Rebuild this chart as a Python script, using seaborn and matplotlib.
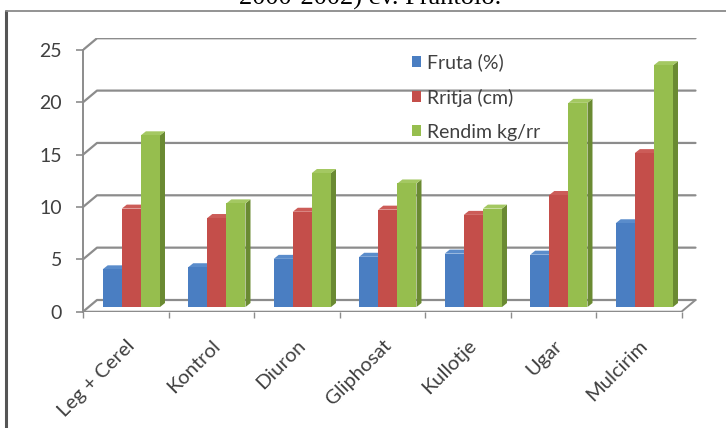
import matplotlib
matplotlib.use("Agg")
import matplotlib.pyplot as plt
import seaborn as sns
import pandas as pd
from matplotlib.patches import Polygon
from matplotlib.lines import Line2D

categories = ["Leg + Cerel", "Kontrol", "Diuron", "Gliphosat", "Kullotje", "Ugar", "Mulcirim"]
series = ["Fruta (%)", "Rritja (cm)", "Rendim kg/rr"]
fruta = [3.6, 3.8, 4.6, 4.8, 5.1, 5.0, 8.0]
rritja = [9.4, 8.5, 9.1, 9.3, 8.8, 10.7, 14.7]
rendim = [16.4, 9.9, 12.8, 11.8, 9.4, 19.5, 23.1]
yticks = [0, 5, 10, 15, 20, 25]
title = "2000-2002) cv. Frantoio."

face_colors = ["#4A7EC2", "#C44E4A", "#96BE4E"]
side_colors = ["#35629A", "#923633", "#6A8A32"]
top_colors = ["#5A8CCB", "#CC5C58", "#A4C862"]
grid_color = "#8C8C8C"
text_color = "#404040"

df = pd.DataFrame({
    "Trajtimi": categories * 3,
    "Seria": [s for s in series for _ in categories],
    "Vlera": fruta + rritja + rendim,
})

sns.set_theme(style="white")
plt.rcParams["font.family"] = ["Lato", "DejaVu Sans"]

W, H = 726, 428
fig = plt.figure(figsize=(W / 100, H / 100), dpi=100)
fig.patch.set_facecolor("white")

# plot area in pixels
x0, x1 = 83, 700
yb, yt = 311.7, 38
ax = fig.add_axes([x0 / W, 1 - yb / H, (x1 - x0) / W, (yb - yt) / H])
cat_px, unit_px = 85.5, 10.47
xmax = -0.5 + (x1 - x0) / cat_px
ymax = (yb - yt) / unit_px
DX, DY = 14 / cat_px, 11.7 / unit_px        # depth of the back wall
bdx, bdy = 5 / cat_px, 4 / unit_px          # depth of each column

sns.barplot(data=df, x="Trajtimi", y="Vlera", hue="Seria", order=categories,
            hue_order=series, palette=face_colors, saturation=1, width=0.67,
            linewidth=0, ax=ax)

# 3-D look: shift columns to mid-depth and add side and top faces
for s, cont in enumerate(ax.containers):
    for bar in cont:
        bx = bar.get_x() + 0.4 * DX
        by = 0.4 * DY
        bw, bh = bar.get_width(), bar.get_height()
        bar.set_x(bx)
        bar.set_y(by)
        bar.set_zorder(4 + 2 * s + 1)
        side = Polygon([(bx + bw, by), (bx + bw + bdx, by + bdy),
                        (bx + bw + bdx, by + bh + bdy), (bx + bw, by + bh)],
                       closed=True, facecolor=side_colors[s], edgecolor="none",
                       zorder=4 + 2 * s)
        top = Polygon([(bx, by + bh), (bx + bdx, by + bh + bdy),
                       (bx + bw + bdx, by + bh + bdy), (bx + bw, by + bh)],
                      closed=True, facecolor=top_colors[s], edgecolor="none",
                      zorder=4 + 2 * s)
        ax.add_patch(side)
        ax.add_patch(top)

ncat = len(categories)
# back-wall gridlines with the diagonal to the value axis
for v in yticks:
    ax.add_line(Line2D([-0.5, -0.5 + DX, ncat - 0.5 + DX], [v, v + DY, v + DY],
                       color=grid_color, lw=1.6, zorder=1))
# floor front edge and right side
ax.add_line(Line2D([-0.5, ncat - 0.5, ncat - 0.5 + DX], [0, 0, DY],
                   color=grid_color, lw=1.4, zorder=2))

ax.set_xlim(-0.5, xmax)
ax.set_ylim(0, ymax)
for sp in ["top", "right", "bottom"]:
    ax.spines[sp].set_visible(False)
ax.spines["left"].set_bounds(0, 25)
ax.spines["left"].set_color(grid_color)
ax.spines["left"].set_linewidth(1.4)

ax.set_yticks(yticks)
ax.set_yticklabels([str(v) for v in yticks])
ax.tick_params(axis="y", left=True, length=5, width=1.2, color=grid_color,
               pad=10, labelsize=14, labelcolor=text_color)
ax.set_xticks(range(ncat))
ax.set_xticklabels(categories, rotation=45, ha="right", va="top",
                   rotation_mode="anchor")
ax.set_xticks([k - 0.5 for k in range(ncat + 1)], minor=True)
ax.tick_params(axis="x", which="major", bottom=False, length=0, pad=18,
               labelsize=14.5, labelcolor=text_color)
ax.tick_params(axis="x", which="minor", bottom=True, length=4, width=1,
               color=grid_color)
ax.set_xlabel("")
ax.set_ylabel("")
ax.set_facecolor("none")

sns.move_legend(ax, "upper left", bbox_to_anchor=(394 / W, 1 - 36 / H),
                bbox_transform=fig.transFigure, frameon=False, title=None,
                fontsize=14, handlelength=0.5, handleheight=0.5,
                handletextpad=0.3, labelspacing=0.88)
for t in ax.get_legend().get_texts():
    t.set_color(text_color)

# chart frame
fig.add_artist(Line2D([6 / W, 6 / W], [0, 1 - 11 / H], color="#555555", lw=2.2,
                      transform=fig.transFigure))
fig.add_artist(Line2D([6 / W, 1], [1 - 11 / H, 1 - 11 / H], color="#8a8a8a",
                      lw=1.3, transform=fig.transFigure))

fig.text(370 / W, 1 - 5 / H, title, ha="center", va="baseline",
         family=["Liberation Serif", "DejaVu Serif"], fontsize=19, color="black")

fig.savefig("out.png", dpi=100, facecolor="white")
